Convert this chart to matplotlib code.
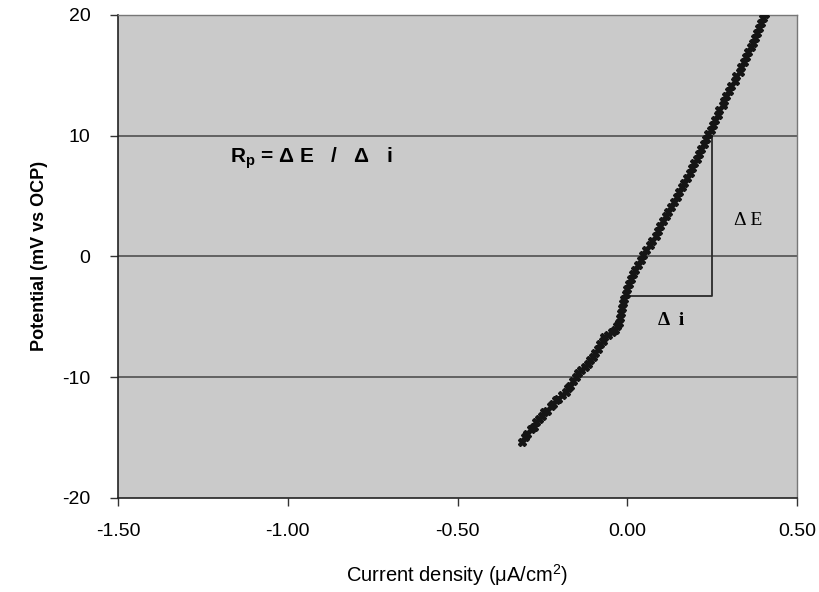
import matplotlib
matplotlib.use("Agg")
import matplotlib.pyplot as plt

# current density (uA/cm2) and potential (mV vs OCP)
current = [-0.310, -0.302, -0.296, -0.283, -0.276, -0.268, -0.259, -0.252, -0.244, -0.238,
           -0.226, -0.218, -0.209, -0.203, -0.192, -0.181, -0.176, -0.168, -0.160, -0.152,
           -0.146, -0.137, -0.124, -0.117, -0.109, -0.102, -0.096, -0.087, -0.080, -0.072,
           -0.068, -0.057, -0.046, -0.036, -0.030, -0.024, -0.021, -0.019, -0.016, -0.013,
           -0.010, -0.005, 0.000, 0.004, 0.010, 0.018, 0.024, 0.031, 0.040, 0.047,
           0.056, 0.066, 0.074, 0.084, 0.091, 0.097, 0.106, 0.113, 0.121, 0.129,
           0.137, 0.145, 0.152, 0.161, 0.167, 0.176, 0.184, 0.190, 0.197, 0.206,
           0.212, 0.217, 0.226, 0.233, 0.238, 0.246, 0.252, 0.259, 0.266, 0.271,
           0.281, 0.286, 0.292, 0.301, 0.306, 0.316, 0.321, 0.331, 0.335, 0.344,
           0.350, 0.356, 0.365, 0.369, 0.377, 0.381, 0.389, 0.393, 0.401, 0.406]
potential = [-15.4, -15.0, -14.7, -14.3, -14.1, -13.7, -13.5, -13.2, -12.9, -12.8,
             -12.4, -12.2, -11.9, -11.8, -11.5, -11.2, -10.9, -10.7, -10.3, -10.0,
             -9.7, -9.4, -9.2, -8.9, -8.6, -8.3, -8.0, -7.7, -7.3, -7.0,
             -6.7, -6.5, -6.3, -6.1, -5.8, -5.5, -5.1, -4.7, -4.3, -3.9,
             -3.5, -3.1, -2.7, -2.3, -1.9, -1.5, -1.1, -0.7, -0.3, 0.1,
             0.5, 0.9, 1.3, 1.7, 2.1, 2.5, 2.9, 3.3, 3.7, 4.1,
             4.5, 4.9, 5.3, 5.7, 6.1, 6.5, 6.9, 7.3, 7.7, 8.1,
             8.5, 8.9, 9.3, 9.7, 10.1, 10.5, 10.9, 11.3, 11.7, 12.1,
             12.5, 12.9, 13.3, 13.7, 14.1, 14.5, 14.9, 15.3, 15.7, 16.1,
             16.5, 16.9, 17.3, 17.7, 18.1, 18.5, 18.9, 19.3, 19.7, 20.1]

# the slope triangle
tri_x = [0.0, 0.25, 0.25]
tri_y = [-3.3, -3.3, 10.0]

plt.rcParams['font.family'] = ['Liberation Sans', 'DejaVu Sans']
plt.rcParams['axes.unicode_minus'] = False
plt.rcParams['mathtext.fontset'] = 'custom'
plt.rcParams['mathtext.bf'] = 'Liberation Sans:bold'
plt.rcParams['mathtext.rm'] = 'Liberation Sans'

fig = plt.figure(figsize=(8.2, 5.92), dpi=100)
ax = fig.add_axes([0.144, 0.159, 0.828, 0.816])
ax.set_facecolor('#cacaca')

for yy in [-10, 0, 10]:
    ax.axhline(yy, color='#454545', lw=1.1, zorder=1)

ax.plot(tri_x, tri_y, color='#2a2a2a', lw=1.3, zorder=2)
ax.plot(current, potential, ls='none', marker='X', ms=6, color='#151515',
        mec='#151515', zorder=3)

ax.text(-1.17, 8.1, r'$\mathbf{R_p}$ = Δ E   /   Δ   i', fontsize=15, fontweight='bold',
        va='center', ha='left')
ax.text(0.355, 3.0, 'Δ E', fontsize=14, family='Liberation Serif', va='center', ha='center')
ax.text(0.13, -5.3, 'Δ  i', fontsize=14, family='Liberation Serif', fontweight='bold',
        va='center', ha='center')

ax.set_xlim(-1.5, 0.5)
ax.set_ylim(-20, 20)
ax.set_xticks([-1.5, -1.0, -0.5, 0.0, 0.5])
ax.set_xticklabels(['-1.50', '-1.00', '-0.50', '0.00', '0.50'])
ax.set_yticks([-20, -10, 0, 10, 20])
ax.tick_params(labelsize=14, direction='out', length=6, width=1, color='#333333')
ax.tick_params(axis='x', pad=12)
ax.tick_params(axis='y', pad=14)

for s in ['left', 'bottom']:
    ax.spines[s].set_color('#222222')
    ax.spines[s].set_linewidth(1.2)
for s in ['top', 'right']:
    ax.spines[s].set_color('#777777')
    ax.spines[s].set_linewidth(1.0)

ax.set_xlabel(r'Current density ($\mathrm{\mu}$A/cm$^2$)', fontsize=14.5, labelpad=16)
ax.set_ylabel('Potential (mV vs OCP)', fontsize=13, fontweight='bold', labelpad=10)

fig.savefig('out.png', dpi=100)
